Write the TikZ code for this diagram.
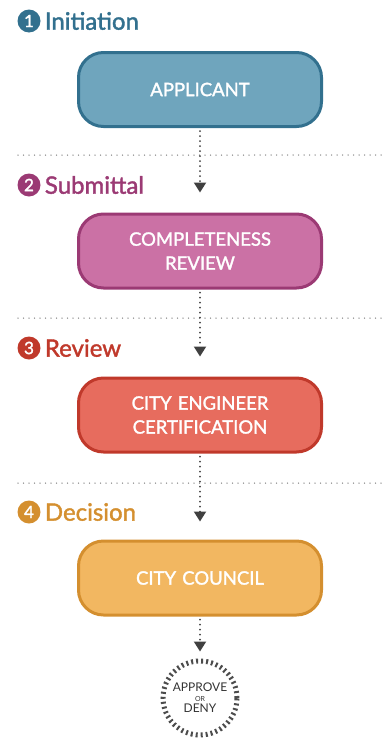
\documentclass[tikz,border=0pt]{standalone}
\usepackage{fontspec}
\setmainfont{Lato}
\newfontfamily\medium{Lato}[FakeBold=1.6]
\usetikzlibrary{arrows.meta, positioning}
\definecolor{initdark}{RGB}{50,112,142}
\definecolor{initfill}{RGB}{111,165,189}
\definecolor{subdark}{RGB}{155,58,116}
\definecolor{subfill}{RGB}{203,113,165}
\definecolor{revdark}{RGB}{192,57,43}
\definecolor{revfill}{RGB}{231,108,94}
\definecolor{decdark}{RGB}{212,143,47}
\definecolor{decfill}{RGB}{242,183,97}

\begin{document}
\begin{tikzpicture}[x=1pt, y=-1pt,
  stage/.style={rectangle, rounded corners=25pt, draw, line width=3pt, minimum width=243pt, minimum height=74pt, text width=230pt, text centered, text=white, font=\medium\fontsize{18.5}{24}\selectfont, align=center},
  num/.style={circle, inner sep=0pt, minimum size=23pt, text=white, font=\medium\fontsize{17}{17}\selectfont},
  phase/.style={anchor=west, inner sep=0pt, font=\medium\fontsize{24}{24}\selectfont},
  divider/.style={black!45, line width=1.5pt, line cap=round, dash pattern=on 0pt off 5.5pt},
  flow/.style={black!75, line width=2pt, line cap=round, dash pattern=on 0pt off 5pt, shorten <=3pt, shorten >=20pt, -{Triangle[width=12pt,length=10pt]}},
  verdictring/.style={circle, draw=black!70, line width=5pt, dash pattern=on 2pt off 3pt, minimum size=74pt, inner sep=0pt, text=black!80, align=center}
]
  \useasboundingbox (0,0) rectangle (383,739);

  % Phase 1
  \node[num, fill=initdark] (n1) at (29,21) {1};
  \node[phase, text=initdark, right=4pt of n1] (initiation) {Initiation};
  \node[stage, fill=initfill, draw=initdark] (applicant) at (200,89.5) {APPLICANT};
  \draw[divider] (18,155) -- (383,155);

  % Phase 2
  \node[num, fill=subdark] (n2) at (29,185) {2};
  \node[phase, text=subdark, right=4pt of n2] (submittal) {Submittal};
  \node[stage, fill=subfill, draw=subdark] (completeness) at (200,251) {COMPLETENESS\\REVIEW};
  \draw[divider] (18,318) -- (383,318);

  % Phase 3
  \node[num, fill=revdark] (n3) at (29,348) {3};
  \node[phase, text=revdark, right=4pt of n3] (review) {Review};
  \node[stage, fill=revfill, draw=revdark] (engineer) at (200,415) {CITY ENGINEER\\CERTIFICATION};
  \draw[divider] (18,483) -- (383,483);

  % Phase 4
  \node[num, fill=decdark] (n4) at (29,512) {4};
  \node[phase, text=decdark, right=4pt of n4] (decision) {Decision};
  \node[stage, fill=decfill, draw=decdark] (council) at (200,578) {CITY COUNCIL};

  % Outcome
  \node[verdictring] (verdict) at (200,698) {{\fontsize{12}{12}\selectfont APPROVE}\\[-2pt]{\fontsize{7}{8}\selectfont OR}\\[-1pt]{\fontsize{12}{12}\selectfont DENY}};

  % Flow
  \draw[flow] (applicant.south) -- (completeness.north);
  \draw[flow] (completeness.south) -- (engineer.north);
  \draw[flow, shorten >=18pt] (engineer.south) -- (council.north);
  \draw[flow, shorten >=7pt] (council.south) -- (verdict.north);
\end{tikzpicture}
\end{document}
